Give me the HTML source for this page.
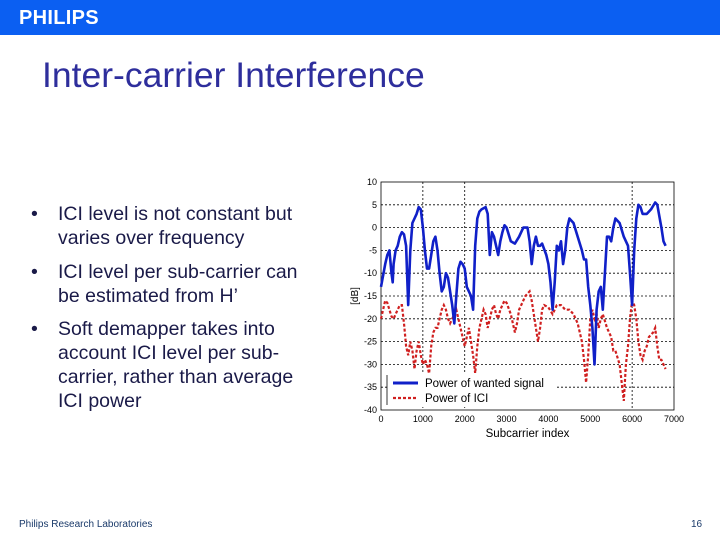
<!DOCTYPE html>
<html><head><meta charset="utf-8"><style>
body{margin:0;width:720px;height:540px;position:relative;background:#fff;font-family:"Liberation Sans",sans-serif;overflow:hidden}
.hdr{position:absolute;left:0;top:0;width:720px;height:35px;background:#0b5ff2}
.logo{position:absolute;left:19px;top:7px;color:#fff;font-weight:bold;font-size:20px;letter-spacing:0.3px}
.title{position:absolute;left:42px;top:55px;color:#2e2e9c;font-size:35.5px;white-space:nowrap}
.b{position:absolute;left:31px;color:#1a1a48;font-size:19.5px;line-height:24px}
.b span{position:absolute;left:27px;white-space:nowrap}
.foot{position:absolute;top:519px;font-size:10px;color:#1a3a6a}
</style></head><body>
<div class="hdr"><div class="logo">PHILIPS</div></div>
<div class="title">Inter-carrier Interference</div>
<div class="b" style="top:202px">•<span>ICI level is not constant but<br>varies over frequency</span></div>
<div class="b" style="top:260px">•<span>ICI level per sub-carrier can<br>be estimated from H’</span></div>
<div class="b" style="top:317px">•<span>Soft demapper takes into<br>account ICI level per sub-<br>carrier, rather than average<br>ICI power</span></div>
<div class="foot" style="left:19px">Philips Research Laboratories</div>
<div class="foot" style="left:691px">16</div>
<svg id="chart" width="720" height="540" style="position:absolute;left:0;top:0"></svg>
<script>
const xTicks=[0,1000,2000,3000,4000,5000,6000,7000];
const yTicks=[10,5,0,-5,-10,-15,-20,-25,-30,-35,-40];
const vGrid=[1000,2000,6000];
const sigX=[0,100,150,200,250,280,300,350,400,450,500,550,600,650,700,750,800,850,900,950,1000,1050,1100,1150,1200,1250,1300,1350,1400,1450,1500,1550,1600,1650,1700,1750,1800,1850,1900,1950,2000,2050,2100,2150,2200,2250,2300,2350,2400,2500,2550,2600,2650,2700,2750,2800,2850,2900,2950,3000,3100,3200,3300,3400,3500,3550,3600,3650,3700,3750,3800,3850,3950,4000,4050,4100,4150,4200,4250,4300,4350,4400,4450,4500,4600,4700,4800,4850,4900,4950,5000,5050,5100,5150,5200,5250,5300,5350,5400,5450,5500,5550,5600,5700,5800,5900,5950,6000,6050,6100,6150,6200,6250,6350,6450,6550,6600,6700,6750,6800];
const sigY=[-13,-8,-6,-5,-10,-12,-8,-5,-4,-2,-1,-1.5,-4,-17,-5,1,2,3,4.5,4,0,-5,-9,-9,-6,-3,-2,-5,-10,-14,-13,-10,-11,-14,-17,-21,-15,-9,-7.5,-8,-9,-13,-14,-15,-18,-4,2,3.5,4,4.5,3,-6,-1,-2,-4,-6,-3,-1,0.5,0,-3,-3.5,-2,0,0,-3,-8,-4,-2,-4,-4,-3.5,-6,-8,-12,-18,-12,-4,-5,-3,-8,-5,0,2,1,-2,-5,-7,-7,-13,-17,-22,-30,-18,-14,-13,-18,-10,-2,-2,-3,0,2,1,-2,-4,-10,-17,-5,2,5,4.5,3,3,4,5.5,5,0,-3,-4];
const iciX=[0,50,100,150,200,250,300,350,400,450,500,550,600,650,700,750,800,850,900,950,1000,1050,1100,1150,1200,1250,1300,1350,1400,1450,1500,1550,1600,1650,1700,1750,1800,1850,1900,1950,2000,2050,2100,2150,2200,2250,2300,2350,2400,2450,2500,2550,2600,2650,2700,2750,2800,2850,2900,2950,3000,3100,3200,3250,3300,3400,3450,3550,3600,3650,3700,3750,3800,3850,3900,4000,4100,4150,4200,4300,4400,4500,4600,4700,4800,4850,4900,4950,5000,5050,5100,5150,5200,5250,5300,5400,5500,5550,5600,5700,5750,5800,5850,5900,5950,6000,6050,6100,6150,6200,6250,6300,6350,6400,6500,6550,6600,6650,6700,6750,6800];
const iciY=[-20,-18,-16,-16.5,-18,-19.5,-20,-19,-18,-17,-17,-21,-26,-28,-25,-27,-31,-27,-25,-28,-30,-29,-30,-32,-26,-23,-22,-22,-20,-18,-17,-18,-20,-21,-20,-19,-18,-20,-22,-24,-26,-24,-22,-25,-28,-32,-26,-22,-20,-18,-19,-22,-20,-18,-17,-19,-20,-18,-17,-16,-16.5,-19,-23,-21,-18,-16,-15,-14,-16,-19,-22,-25,-22,-18,-17,-17.5,-19,-18,-17,-17,-18,-18,-19,-21,-25,-29,-34,-28,-20,-18,-20,-19,-22,-20,-19,-22,-24,-27,-27,-30,-34,-38,-30,-26,-20,-16,-17,-20,-25,-28,-29,-27,-26,-24,-23,-22,-26,-29,-29,-30,-31];
const NS='http://www.w3.org/2000/svg';
const svg=document.getElementById('chart');
const L=381,R=674,T=182,B=410;
const sx=v=>L+(v-0)/7000*(R-L);
const sy=v=>T+(10-v)/50*(B-T);
function mk(t,a){const e=document.createElementNS(NS,t);for(const k in a)e.setAttribute(k,a[k]);svg.appendChild(e);return e;}
yTicks.forEach(v=>{
 if(v<10&&v>-40){const g=mk('line',{x1:L,x2:R,y1:sy(v),y2:sy(v),stroke:'#000','stroke-width':0.8,'stroke-dasharray':'2,2'});
 
 }
 const t=mk('text',{x:L-4,y:sy(v)+3,'text-anchor':'end','font-size':9,'font-family':'Liberation Sans, sans-serif'});
 t.textContent=v;
 
 
});
vGrid.forEach(v=>{
 const g=mk('line',{x1:sx(v),x2:sx(v),y1:T,y2:B,stroke:'#000','stroke-width':0.8,'stroke-dasharray':'2,2'});
 
 
});
xTicks.forEach(v=>{
 const t=mk('text',{x:sx(v),y:B+12,'text-anchor':'middle','font-size':9,'font-family':'Liberation Sans, sans-serif'});
 t.textContent=v;
 
 
});
const fr=mk('rect',{x:L,y:T,width:R-L,height:B-T,fill:'none',stroke:'#000','stroke-width':0.8});


function pts(xs,ys){return xs.map((x,i)=>sx(x).toFixed(1)+','+sy(ys[i]).toFixed(1)).join(' ');}
const ici=mk('polyline',{points:pts(iciX,iciY),fill:'none',stroke:'#d02020','stroke-width':2.2,'stroke-dasharray':'3,2'});


const sig=mk('polyline',{points:pts(sigX,sigY),fill:'none',stroke:'#1020c8','stroke-width':2.6,'stroke-linejoin':'round'});


const lg=mk('rect',{x:L+6,y:373,width:170,height:34,fill:'#fff',stroke:'none'});


mk('line',{x1:L+6,x2:L+6,y1:375,y2:405,stroke:'#000','stroke-width':0.8});
mk('line',{x1:L+12,x2:L+37,y1:383,y2:383,stroke:'#1020c8','stroke-width':3});
mk('line',{x1:L+12,x2:L+37,y1:398,y2:398,stroke:'#d02020','stroke-width':2.2,'stroke-dasharray':'3,2'});
const l1=mk('text',{x:L+44,y:387,'font-size':11.5,'font-family':'Liberation Sans, sans-serif'});l1.textContent='Power of wanted signal';


const l2=mk('text',{x:L+44,y:402,'font-size':11.5,'font-family':'Liberation Sans, sans-serif'});l2.textContent='Power of ICI';


const xt=mk('text',{x:(L+R)/2,y:437,'text-anchor':'middle','font-size':11.5,'font-family':'Liberation Sans, sans-serif'});xt.textContent='Subcarrier index';


const yt=mk('text',{x:0,y:0,'text-anchor':'middle','font-size':10,'font-family':'Liberation Sans, sans-serif',transform:'translate(358,296) rotate(-90)'});yt.textContent='[dB]';


</script>
</body></html>
